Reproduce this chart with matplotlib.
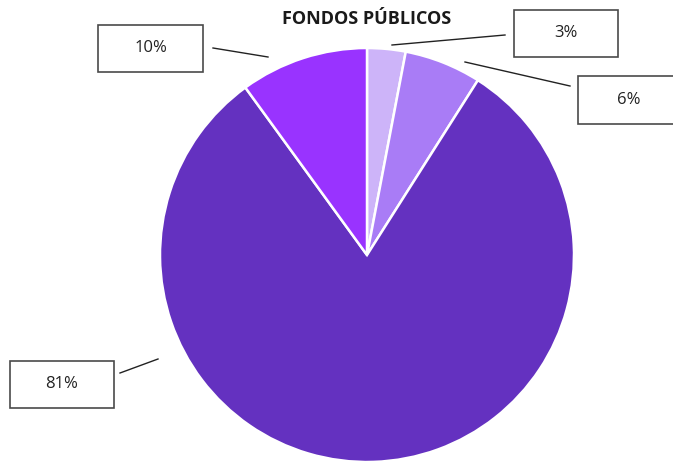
import matplotlib.pyplot as plt
from matplotlib.patches import Rectangle

# slices in clockwise order starting at 12 o'clock
labels = ['3%', '6%', '81%', '10%']
values = [3, 6, 81, 10]
colors = ['#CDB4F9', '#A97CF6', '#6431C0', '#9933FF']

W, H = 673, 461
fig = plt.figure(figsize=(W / 100, H / 100), dpi=100)
ax = fig.add_axes([0, 0, 1, 1])

cx, cy, r = 367, H - 255, 207
ax.pie(values, colors=colors, startangle=90, counterclock=False,
       center=(cx, cy), radius=r, frame=True,
       wedgeprops=dict(edgecolor='white', linewidth=1.8))
ax.set_xlim(0, W)
ax.set_ylim(0, H)
ax.set_aspect('equal')
ax.axis('off')

ax.text(367, H - 19, 'FONDOS PÚBLICOS', ha='center', va='center',
        fontsize=13, fontweight='bold', family='Open Sans', color='#1a1a1a')

# label boxes (x0, y0 top, x1, y1 bottom) in pixel coords
boxes = {
    '3%': (514, 10, 618, 57),
    '6%': (578, 76, 680, 124),
    '81%': (10, 361, 114, 408),
    '10%': (98, 25, 203, 72),
}
leaders = {
    '3%': ((392, 45), (505, 35)),
    '6%': ((465, 62), (570, 86)),
    '81%': ((158, 359), (120, 373)),
    '10%': ((268, 57), (213, 48)),
}
for lab in labels:
    x0, y0, x1, y1 = boxes[lab]
    ax.add_patch(Rectangle((x0, H - y1), x1 - x0, y1 - y0, facecolor='white',
                           edgecolor='#4a4a4a', linewidth=1.2, clip_on=False))
    ax.text((x0 + x1) / 2, H - (y0 + y1) / 2, lab, ha='center', va='center',
            fontsize=12, family='Open Sans', color='#222222')
    (a, b), (c, d) = leaders[lab]
    ax.plot([a, c], [H - b, H - d], color='#222222', linewidth=1)

fig.savefig('out.png', dpi=100)
